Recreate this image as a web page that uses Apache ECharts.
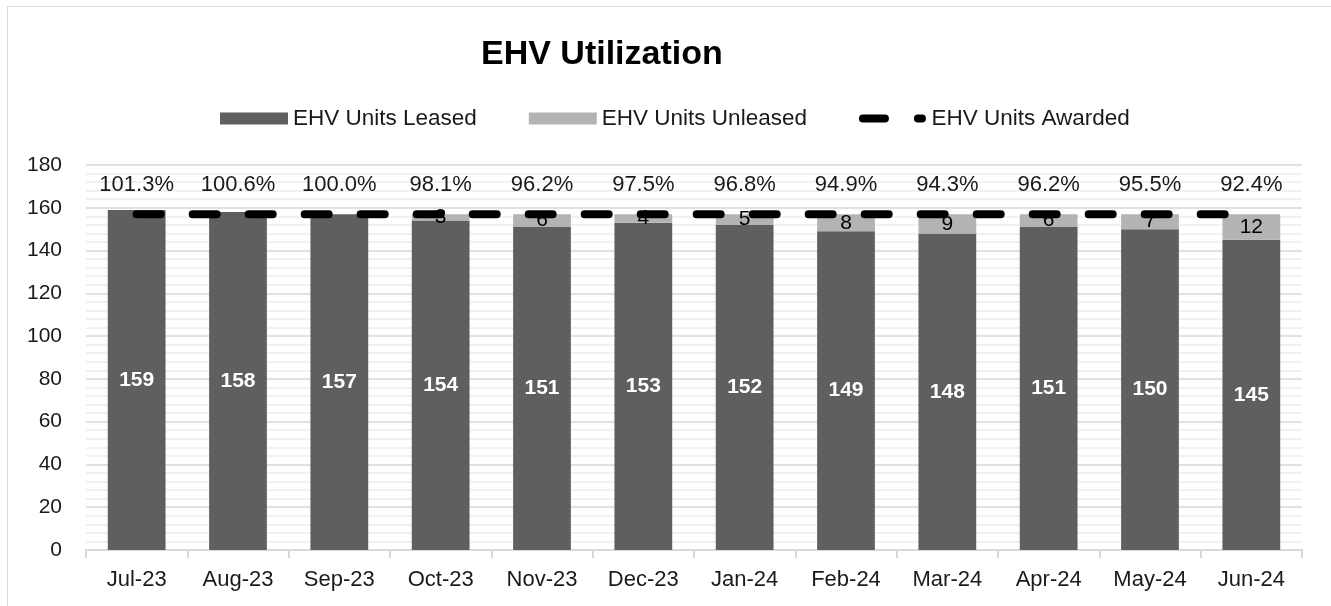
<!DOCTYPE html>
<html>
<head>
<meta charset="utf-8">
<script src="https://cdn.jsdelivr.net/npm/echarts@6/dist/echarts.min.js"></script>
<style>
  html, body { margin: 0; padding: 0; background: #fff; }
  #chart { width: 1331px; height: 606px; }
  .frame {
    position: absolute; left: 7px; top: 6px; right: 0; bottom: 0;
    border-top: 1px solid #d9d9d9; border-left: 1px solid #d9d9d9;
    pointer-events: none;
  }
</style>
</head>
<body>
<div class="frame"></div>
<div id="chart"></div>
<script>
// data
let months = ['Jul-23', 'Aug-23', 'Sep-23', 'Oct-23', 'Nov-23', 'Dec-23', 'Jan-24', 'Feb-24', 'Mar-24', 'Apr-24', 'May-24', 'Jun-24']
let leased = [159, 158, 157, 154, 151, 153, 152, 149, 148, 151, 150, 145]
let unleased = [-2, -1, 0, 3, 6, 4, 5, 8, 9, 6, 7, 12]
let awarded = [157, 157, 157, 157, 157, 157, 157, 157, 157, 157, 157, 157]
let utilization = ['101.3%', '100.6%', '100.0%', '98.1%', '96.2%', '97.5%', '96.8%', '94.9%', '94.3%', '96.2%', '95.5%', '92.4%']

let font = 'Liberation Sans, Arial, sans-serif'
let txt = '#1a1a1a'

// legend icon for the dashed line: one long dash and one short, rounded
let dashIcon = 'path://M10,0L10.01,0L10,0.01Z' +
    'M5,2H27A4,4 0 0 1 27,10H5A4,4 0 0 1 5,2Z' +
    'M60,2H64A4,4 0 0 1 64,10H60A4,4 0 0 1 60,2Z' +
    'M10,12L10.01,12L10,11.99Z'

var myChart = echarts.init(document.getElementById('chart'))
let option = {
    animation: false,
    textStyle: { fontFamily: font },
    title: {
        text: 'EHV Utilization',
        left: 476,
        top: 33,
        textStyle: { fontFamily: font, fontSize: 34, fontWeight: 'bold', color: '#000' }
    },
    legend: {
        left: 215,
        top: 102,
        itemWidth: 68,
        itemHeight: 12,
        itemGap: 52,
        textStyle: { fontFamily: font, fontSize: 22.5, color: txt },
        data: [
            { name: 'EHV Units Leased', icon: 'rect' },
            { name: 'EHV Units Unleased', icon: 'rect' },
            { name: 'EHV Units Awarded', icon: dashIcon }
        ]
    },
    grid: {
        left: 86,
        right: 29,
        top: 165,
        bottom: 56
    },
    xAxis: {
        type: 'category',
        data: months,
        axisLine: { lineStyle: { color: '#d9d9d9', width: 2 } },
        axisTick: { show: true, length: 8, lineStyle: { color: '#d9d9d9', width: 2 } },
        axisLabel: { fontFamily: font, fontSize: 22, color: txt, margin: 19 }
    },
    yAxis: {
        type: 'value',
        min: 0,
        max: 180,
        interval: 20,
        axisLine: { show: false },
        axisTick: { show: false },
        axisLabel: { fontFamily: font, fontSize: 21, color: txt, margin: 24 },
        splitLine: { lineStyle: { color: '#d9d9d9', width: 1.5 } },
        minorTick: { show: false, splitNumber: 5 },
        minorSplitLine: { show: true, lineStyle: { color: '#ededed', width: 1.5 } }
    },
    series: [
        {
            name: 'EHV Units Leased',
            type: 'bar',
            stack: 'units',
            barWidth: '57%',
            itemStyle: { color: '#5f5f5f' },
            label: {
                show: true,
                position: 'inside',
                color: '#fff',
                fontFamily: font,
                fontSize: 21,
                fontWeight: 'bold'
            },
            data: leased
        },
        {
            name: 'EHV Units Unleased',
            type: 'bar',
            stack: 'units',
            barWidth: '57%',
            itemStyle: { color: '#b3b3b3' },
            label: {
                show: true,
                position: 'inside',
                color: '#000',
                fontFamily: font,
                fontSize: 21,
                formatter: p => (p.value > 0 ? p.value : '')
            },
            data: unleased
        },
        {
            name: 'EHV Units Awarded',
            type: 'line',
            z: 5,
            symbol: 'circle',
            symbolSize: 0,
            itemStyle: { color: '#000' },
            lineStyle: { color: '#000', width: 8, type: [24, 32], cap: 'round' },
            label: {
                show: true,
                position: 'top',
                distance: 18,
                color: txt,
                fontFamily: font,
                fontSize: 22,
                formatter: p => utilization[p.dataIndex]
            },
            data: awarded
        }
    ]
}
myChart.setOption(option)
</script>
</body>
</html>
